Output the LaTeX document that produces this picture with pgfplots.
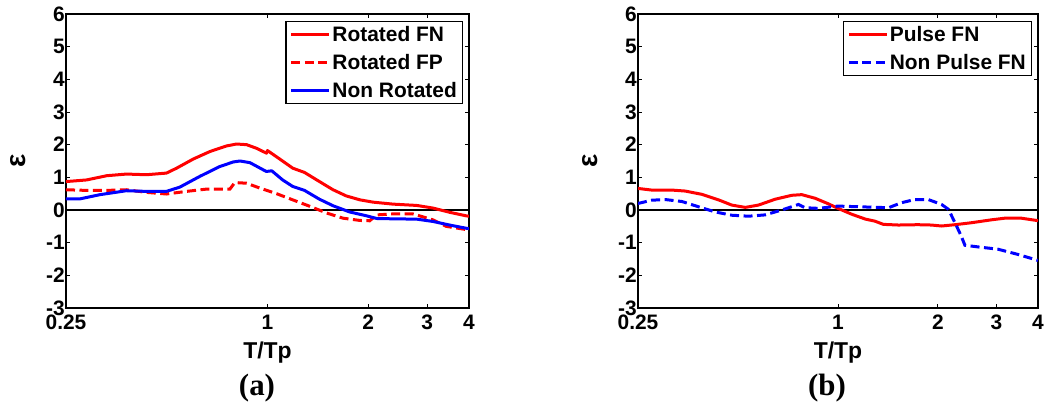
\documentclass[border=0pt]{standalone}
\usepackage{fontspec}
\setmainfont{Liberation Sans}
\newfontfamily\timesf{Liberation Serif}
\usepackage{pgfplots}
\pgfplotsset{compat=1.18}
\definecolor{mred}{rgb}{1,0,0}
\definecolor{mblue}{rgb}{0,0,1}
\pgfplotsset{
  mystyle/.style={
    scale only axis, height=294bp,
    xmin=0.25, xmax=4, ymin=-3, ymax=6,
    xtick={0.25,1,2,3,4}, xticklabels={0.25,1,2,3,4},
    ytick={-3,-2,-1,0,1,2,3,4,5,6}, yticklabels={-3,-2,-1,0,1,2,3,4,5,6},
    xminorticks=false, yminorticks=false,
    tick align=inside, major tick length=4bp,
    axis line style={line width=1.3bp},
    every tick/.style={black, line width=1bp},
    tick label style={font=\bfseries\fontsize{21}{21}\selectfont},
    yticklabel style={inner sep=1bp},
    xticklabel style={inner sep=1bp, yshift=-6bp},
    label style={font=\bfseries\fontsize{23}{23}\selectfont},
    xlabel={T/Tp}, ylabel={\fontsize{28}{28}\selectfont ε},
    xlabel style={at={(axis description cs:0.5,-0.15)}, anchor=center},
    ylabel style={at={(axis description cs:-0.119,0.5)}, anchor=center},
    legend cell align=left,
    legend style={font=\bfseries\fontsize{21}{21}\selectfont, draw=black, line width=1.3bp,
      at={(axis description cs:0.985,0.976)}, anchor=north east, inner xsep=4bp, inner ysep=3bp, row sep=8.5bp,
      nodes={inner sep=1.5bp}},
  },
  legend image code/.code={\draw[#1] (0bp,0bp) -- (38bp,0bp);},
}
\begin{document}
\begin{tikzpicture}
\path[use as bounding box] (0,0) rectangle (1050bp,406bp);
\begin{axis}[xmode=log, width=403bp, mystyle, name=A, at={(66bp,98bp)}, anchor=south west]
\addplot[black, line width=2bp, forget plot] coordinates {(0.25,0) (4,0)};
\addplot[mred, line width=3bp, line join=round] coordinates {
(0.25,0.87) (0.288,0.92) (0.331,1.05) (0.379,1.10) (0.435,1.08) (0.499,1.13) (0.535,1.28) (0.600,1.56) (0.673,1.79) (0.754,1.96) (0.808,2.02) (0.866,2.00) (0.927,1.89) (0.993,1.74) (1.0,1.82) (1.088,1.56) (1.19,1.28) (1.29,1.15) (1.43,0.87) (1.57,0.62) (1.72,0.43) (1.89,0.31) (2.07,0.24) (2.37,0.18) (2.79,0.14) (3.12,0.06) (3.50,-0.07) (3.93,-0.18) (4,-0.19)};
\addlegendentry{Rotated FN}
\addplot[mred, line width=3bp, dash pattern=on 9bp off 4.5bp] coordinates {
(0.25,0.62) (0.288,0.60) (0.331,0.60) (0.379,0.62) (0.435,0.54) (0.499,0.49) (0.573,0.57) (0.658,0.64) (0.772,0.64) (0.799,0.84) (0.866,0.82) (0.949,0.67) (1.064,0.50) (1.19,0.31) (1.34,0.11) (1.50,-0.09) (1.68,-0.25) (1.89,-0.32) (2.02,-0.33) (2.12,-0.15) (2.37,-0.12) (2.72,-0.12) (3.12,-0.30) (3.42,-0.50) (3.93,-0.60) (4,-0.61)};
\addlegendentry{Rotated FP}
\addplot[mblue, line width=3bp, line join=round] coordinates {
(0.25,0.34) (0.275,0.34) (0.316,0.47) (0.379,0.59) (0.435,0.57) (0.499,0.57) (0.547,0.70) (0.628,1.03) (0.72,1.33) (0.79,1.47) (0.827,1.50) (0.886,1.45) (0.971,1.23) (0.993,1.18) (1.03,1.20) (1.11,0.92) (1.19,0.72) (1.29,0.60) (1.43,0.33) (1.57,0.13) (1.76,-0.06) (1.98,-0.18) (2.12,-0.26) (2.37,-0.27) (2.79,-0.28) (3.12,-0.35) (3.50,-0.46) (3.93,-0.56) (4,-0.57)};
\addlegendentry{Non Rotated}
\end{axis}
\node[font=\timesf\bfseries\fontsize{31}{31}\selectfont] at ([xshift=191bp,yshift=-80bp]A.south west) {(a)};
\begin{axis}[xmode=log, width=400bp, mystyle, name=B, at={(638bp,98bp)}, anchor=south west]
\addplot[black, line width=2bp, forget plot] coordinates {(0.25,0) (4,0)};
\addplot[mred, line width=3bp, line join=round] coordinates {
(0.25,0.66) (0.275,0.61) (0.316,0.61) (0.347,0.58) (0.389,0.48) (0.437,0.31) (0.479,0.15) (0.526,0.08) (0.576,0.15) (0.647,0.33) (0.726,0.45) (0.778,0.47) (0.853,0.36) (0.935,0.19) (1.0,0.05) (1.10,-0.13) (1.21,-0.28) (1.29,-0.34) (1.37,-0.44) (1.52,-0.46) (1.74,-0.45) (1.91,-0.46) (2.05,-0.49) (2.25,-0.45) (2.52,-0.39) (2.90,-0.30) (3.18,-0.25) (3.56,-0.25) (3.96,-0.32) (4,-0.33)};
\addlegendentry{Pulse FN}
\addplot[mblue, line width=3bp, dash pattern=on 9bp off 4.5bp] coordinates {
(0.25,0.20) (0.275,0.30) (0.302,0.32) (0.339,0.26) (0.380,0.10) (0.427,-0.06) (0.479,-0.16) (0.538,-0.19) (0.603,-0.15) (0.677,0.0) (0.726,0.10) (0.760,0.17) (0.796,0.07) (0.873,0.05) (1.0,0.12) (1.15,0.10) (1.42,0.07) (1.55,0.22) (1.70,0.32) (1.87,0.32) (2.05,0.17) (2.15,0.02) (2.25,-0.39) (2.35,-0.80) (2.41,-1.08) (2.64,-1.13) (3.03,-1.20) (3.48,-1.36) (3.96,-1.53) (4,-1.55)};
\addlegendentry{Non Pulse FN}
\end{axis}
\node[font=\timesf\bfseries\fontsize{31}{31}\selectfont] at ([xshift=189bp,yshift=-80bp]B.south west) {(b)};
\end{tikzpicture}
\end{document}
